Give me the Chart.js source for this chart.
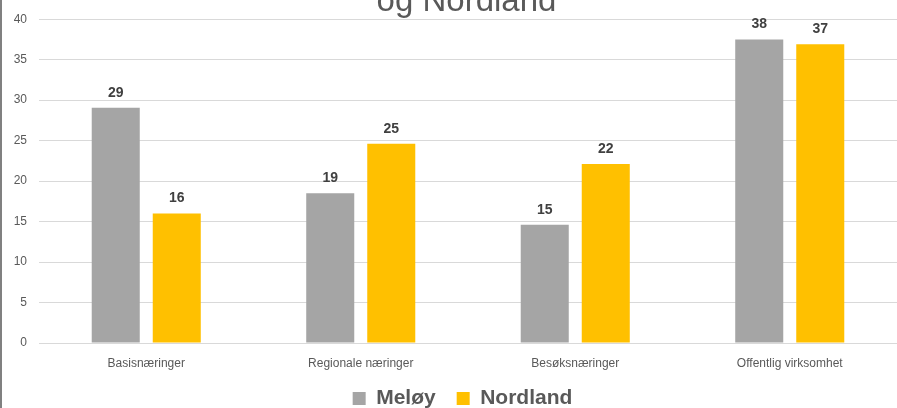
<!DOCTYPE html>
<html>
<head>
<meta charset="utf-8">
<script src="https://cdn.jsdelivr.net/npm/chart.js@4/dist/chart.umd.min.js"></script>
<style>
  html, body { margin: 0; padding: 0; background: #fff; }
  #wrap { position: relative; width: 897px; height: 408px; overflow: hidden; }
  #frame { position: absolute; left: 0; top: 0; width: 2px; height: 408px; background: #808080; }
</style>
</head>
<body>
<div id="wrap">
  <canvas id="c" width="897" height="408"></canvas>
  <div id="frame"></div>
</div>
<script>
const categories = ["Basisnæringer", "Regionale næringer", "Besøksnæringer", "Offentlig virksomhet"];
const seriesNames = ["Meløy", "Nordland"];
const meloyValues = [29.05, 18.5, 14.6, 37.5];
const nordlandValues = [16.0, 24.6, 22.1, 36.9];
const yTicks = [0, 5, 10, 15, 20, 25, 30, 35, 40];
const titleText = "og Nordland";

const FONT = "'Liberation Sans', Arial, sans-serif";

const dataLabels = {
  id: 'dataLabels',
  afterDatasetsDraw(chart) {
    const ctx = chart.ctx;
    ctx.save();
    ctx.font = "bold 14px " + FONT;
    ctx.fillStyle = '#404040';
    ctx.textAlign = 'center';
    ctx.textBaseline = 'alphabetic';
    chart.data.datasets.forEach((ds, i) => {
      const meta = chart.getDatasetMeta(i);
      meta.data.forEach((el, j) => {
        ctx.fillText(String(Math.round(ds.data[j])), el.x, el.y - 11);
      });
    });
    ctx.restore();
  }
};

// the original is centred on a slightly wider frame: nudge title & legend
const shiftBlocks = {
  id: 'shiftBlocks',
  afterLayout(chart) {
    if (chart.titleBlock) { chart.titleBlock.left += 18; chart.titleBlock.right += 18; }
    if (chart.legend) {
      chart.legend.left += 14; chart.legend.right += 14;
      chart.legend.top -= 16; chart.legend.bottom -= 16;
    }
  }
};

new Chart(document.getElementById('c'), {
  type: 'bar',
  data: {
    labels: categories,
    datasets: [
      { label: seriesNames[0], data: meloyValues, backgroundColor: '#A5A5A5',
        categoryPercentage: 0.569, barPercentage: 0.787 },
      { label: seriesNames[1], data: nordlandValues, backgroundColor: '#FFC000',
        categoryPercentage: 0.569, barPercentage: 0.787 }
    ]
  },
  options: {
    responsive: false,
    animation: false,
    layout: { padding: { left: 0, right: 0, top: 0, bottom: -27 } },
    plugins: {
      title: {
        display: true,
        text: titleText,
        color: '#595959',
        font: { family: FONT, size: 33, weight: 'normal', lineHeight: 1.2 },
        padding: { top: -18, bottom: -2.6 }
      },
      legend: {
        position: 'bottom',
        labels: {
          color: '#595959',
          font: { family: FONT, size: 21, weight: 'bold' },
          boxWidth: 13,
          boxHeight: 13,
          padding: 21
        }
      },
      tooltip: { enabled: false }
    },
    scales: {
      x: {
        afterFit(scale) { scale.height = 40; },
        grid: { display: false, drawTicks: false },
        border: { display: false },
        ticks: { color: '#595959', font: { family: FONT, size: 12 }, padding: 13, maxRotation: 0 }
      },
      y: {
        min: 0, max: 40,
        afterBuildTicks(scale) { scale.ticks = yTicks.map(v => ({ value: v })); },
        afterFit(scale) { scale.width = 39; },
        grid: { color: '#d9d9d9', drawTicks: false, lineWidth: 1 },
        border: { display: false },
        ticks: { color: '#595959', font: { family: FONT, size: 12 }, padding: 12 }
      }
    }
  },
  plugins: [dataLabels, shiftBlocks]
});
</script>
</body>
</html>
